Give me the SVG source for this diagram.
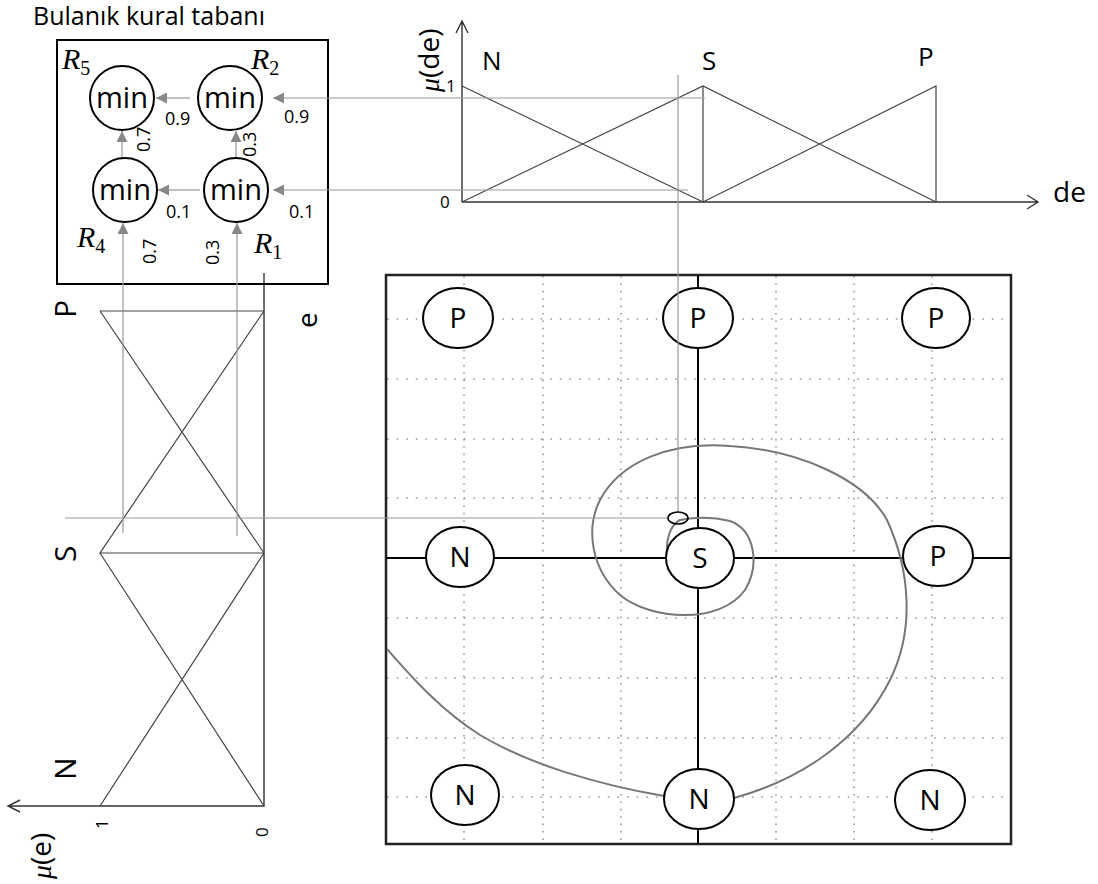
<svg xmlns="http://www.w3.org/2000/svg" width="1098" height="884" viewBox="0 0 1098 884">
<defs>
<style>
.t{font-family:"Open Sans","Noto Sans",sans-serif;fill:#000}
.r{font-family:"Liberation Serif",serif;font-style:italic;fill:#000}
.rs{font-family:"Liberation Serif",serif;fill:#000}
.mf{stroke:#444;stroke-width:1.2;fill:none}
.ax{stroke:#333;stroke-width:1.4;fill:none}
.gl{stroke:#999;stroke-width:1.2;fill:none}
.ga{stroke:#aaa;stroke-width:1.5;fill:none}
.dv{stroke:#999;stroke-width:1.6;stroke-dasharray:1.6 5.8;fill:none}
.dh{stroke:#999;stroke-width:1.6;stroke-dasharray:1.6 8;fill:none}
.nd{fill:#fff;stroke:#000;stroke-width:2}
</style>
<marker id="ah" viewBox="0 0 10 10" refX="10" refY="5" markerWidth="11" markerHeight="11" markerUnits="userSpaceOnUse" orient="auto">
<path d="M0,0 L10,5 L0,10 z" fill="#888"/>
</marker>
</defs>
<rect width="1098" height="884" fill="#fff"/>

<g id="title"><text class="t" x="33" y="25" font-size="25">Bulanık kural tabanı</text></g>

<!-- top membership function -->
<g id="mf-de">
<path class="ax" d="M462,202 V21 M456,33 L462,21 L468,33"/>
<path class="ax" d="M462,202 H1038 M1027,195 L1038,202 L1027,209"/>
<path class="mf" d="M462,86 L703,202 M462,202 L703,86 L936,202 M703,86 V202 M703,202 L936,86 V202"/>
<text class="t" x="446" y="92" font-size="17">1</text>
<text class="t" x="440" y="208" font-size="17">0</text>
<text class="t" x="482" y="70" font-size="26">N</text>
<text class="t" x="702" y="70" font-size="26">S</text>
<text class="t" x="918" y="66" font-size="26">P</text>
<text class="t" x="1053" y="202" font-size="28">de</text>
<text class="t" font-size="28" transform="translate(439,92) rotate(-90)"><tspan font-family="Liberation Serif" font-style="italic">μ</tspan>(de)</text>
</g>

<!-- left membership function -->
<g id="mf-e">
<path class="ax" d="M264,273 V806 H8 M20,800 L8,806 L20,812"/>
<path class="mf" d="M100,311 H264 M100,311 L264,553 M264,311 L100,553 H264 M100,553 L264,806 M264,553 L100,806"/>
<text class="t" font-size="30" transform="translate(76,318) rotate(-90)">P</text>
<text class="t" font-size="30" transform="translate(76,562) rotate(-90)">S</text>
<text class="t" font-size="30" transform="translate(76,780) rotate(-90)">N</text>
<text class="t" font-size="17" transform="translate(108,829) rotate(-90)">1</text>
<text class="t" font-size="17" transform="translate(268,837) rotate(-90)">0</text>
<text class="t" font-size="28" transform="translate(317,328) rotate(-90)">e</text>
<text class="t" font-size="28" transform="translate(51,879) rotate(-90)"><tspan font-family="Liberation Serif" font-style="italic">μ</tspan>(e)</text>
</g>

<!-- phase plane grid -->
<g id="grid">
<path class="dv" d="M464,276 V843 M543,276 V843 M621,276 V843 M776,276 V843 M854,276 V843 M932,276 V843"/>
<path class="dh" d="M387,319 H1010 M387,379 H1010 M387,439 H1010 M387,498 H1010 M387,618 H1010 M387,678 H1010 M387,738 H1010 M387,797 H1010"/>
<rect x="386" y="275" width="625" height="569" fill="none" stroke="#222" stroke-width="2.5"/>
<path d="M698,275 V844 M386,558 H1011" stroke="#000" stroke-width="2" fill="none"/>
</g>

<g id="trajectory">
<path d="M387,649 C410,675 440,710 480,735 C530,765 600,785 664,796 L734,798 C800,780 860,740 890,680 C915,630 910,570 887,520 C865,480 800,450 730,446 C670,441 620,462 600,500 C585,530 592,570 620,595 C650,620 720,625 745,590 C760,565 755,530 730,521 C710,516 690,518 680,520 C670,525 666,540 667,553" fill="none" stroke="#777" stroke-width="2"/>
</g>

<g id="node-P1"><ellipse class="nd" cx="458" cy="318" rx="35" ry="30"/><text class="t" x="458" y="328" font-size="28" text-anchor="middle">P</text></g>
<g id="node-P2"><ellipse class="nd" cx="698" cy="318" rx="35" ry="30"/><text class="t" x="698" y="328" font-size="28" text-anchor="middle">P</text></g>
<g id="node-P3"><ellipse class="nd" cx="936" cy="318" rx="34" ry="30"/><text class="t" x="936" y="328" font-size="28" text-anchor="middle">P</text></g>
<g id="node-N1"><ellipse class="nd" cx="460" cy="557" rx="34" ry="30"/><text class="t" x="460" y="567" font-size="28" text-anchor="middle">N</text></g>
<g id="node-S"><ellipse class="nd" cx="700" cy="558" rx="34" ry="30"/><text class="t" x="700" y="568" font-size="28" text-anchor="middle">S</text></g>
<g id="node-P4"><ellipse class="nd" cx="938" cy="556" rx="35" ry="30"/><text class="t" x="938" y="566" font-size="28" text-anchor="middle">P</text></g>
<g id="node-N2"><ellipse class="nd" cx="465" cy="795" rx="34" ry="30"/><text class="t" x="465" y="805" font-size="28" text-anchor="middle">N</text></g>
<g id="node-N3"><ellipse class="nd" cx="699" cy="799" rx="35" ry="30"/><text class="t" x="699" y="809" font-size="28" text-anchor="middle">N</text></g>
<g id="node-N4"><ellipse class="nd" cx="930" cy="800" rx="35" ry="30"/><text class="t" x="930" y="810" font-size="28" text-anchor="middle">N</text></g>

<!-- rule base box -->
<g id="rulebase">
<rect x="57" y="40" width="271" height="244" fill="none" stroke="#000" stroke-width="2"/>
<text class="t" font-size="18" x="165" y="125">0.9</text>
<text class="t" font-size="18" x="284" y="123">0.9</text>
<text class="t" font-size="18" x="166" y="218">0.1</text>
<text class="t" font-size="18" x="289" y="218">0.1</text>
<text class="t" font-size="18" transform="translate(150,152) rotate(-90)">0.7</text>
<text class="t" font-size="18" transform="translate(256,157) rotate(-90)">0.3</text>
<text class="t" font-size="18" transform="translate(156,264) rotate(-90)">0.7</text>
<text class="t" font-size="18" transform="translate(219,265) rotate(-90)">0.3</text>
<text x="62" y="69"><tspan class="r" font-size="30">R</tspan><tspan class="rs" font-size="20" dy="6">5</tspan></text>
<text x="251" y="69"><tspan class="r" font-size="30">R</tspan><tspan class="rs" font-size="20" dy="6">2</tspan></text>
<text x="77" y="247"><tspan class="r" font-size="30">R</tspan><tspan class="rs" font-size="20" dy="6">4</tspan></text>
<text x="254" y="253"><tspan class="r" font-size="30">R</tspan><tspan class="rs" font-size="20" dy="6">1</tspan></text>
</g>

<g id="connectors">
<path class="ga" d="M190,98 H156" marker-end="url(#ah)"/>
<path class="ga" d="M200,190 H158" marker-end="url(#ah)"/>
<path class="ga" d="M122,159 V131" marker-end="url(#ah)"/>
<path class="ga" d="M236,158 V131" marker-end="url(#ah)"/>
<path class="gl" d="M705,98 H273" marker-end="url(#ah)"/>
<path class="gl" d="M688,190 H273" marker-end="url(#ah)"/>
<path class="gl" d="M123,533 V223" marker-end="url(#ah)"/>
<path class="gl" d="M237,536 V223" marker-end="url(#ah)"/>
<path class="gl" d="M678,75 V512 M65,518 H668"/>
<ellipse cx="678" cy="518" rx="10" ry="6" fill="none" stroke="#000" stroke-width="1.5"/>
</g>

<g id="rule-R5"><circle class="nd" cx="122" cy="98" r="32"/><text class="t" x="122" y="108" font-size="29" text-anchor="middle">min</text></g>
<g id="rule-R2"><circle class="nd" cx="230" cy="98" r="32"/><text class="t" x="230" y="108" font-size="29" text-anchor="middle">min</text></g>
<g id="rule-R4"><circle class="nd" cx="125" cy="190" r="32"/><text class="t" x="125" y="200" font-size="29" text-anchor="middle">min</text></g>
<g id="rule-R1"><circle class="nd" cx="236" cy="190" r="32"/><text class="t" x="236" y="200" font-size="29" text-anchor="middle">min</text></g>
</svg>
